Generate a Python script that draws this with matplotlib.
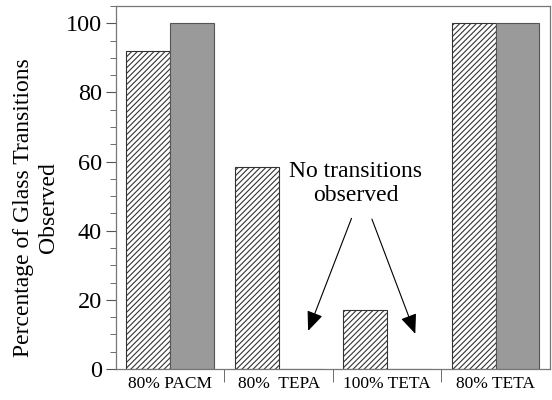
import numpy as np
import matplotlib.pyplot as plt
from matplotlib.ticker import MultipleLocator, FixedLocator

plt.rcParams['font.family'] = ['Liberation Serif', 'DejaVu Serif']
plt.rcParams['hatch.linewidth'] = 0.8

categories = ['80% PACM', '80%  TEPA', '100% TETA', '80% TETA']
hatched_vals = [92, 58.5, 17, 100]
grey_vals = [100, 0, 0, 100]

x = np.arange(len(categories))
w = 0.405

fig = plt.figure(figsize=(5.52, 4.0), dpi=100)
ax = fig.add_axes([0.210, 0.0775, 0.786, 0.9075])

ax.bar(x - w / 2, hatched_vals, width=w, color='white', edgecolor='#333333',
       hatch='//////', linewidth=0.8)
ax.bar(x + w / 2, grey_vals, width=w, color='#9a9a9a', edgecolor='#555555',
       linewidth=0.8)

ax.set_xlim(-0.5, len(categories) - 0.5)
ax.set_ylim(0, 105)
ax.yaxis.set_major_locator(MultipleLocator(20))
ax.yaxis.set_minor_locator(MultipleLocator(5))
ax.tick_params(axis='y', which='major', length=7, labelsize=17.5, color='#555555', pad=3)
ax.tick_params(axis='y', which='minor', length=4, color='#555555')

ax.set_xticks(x)
ax.set_xticklabels(categories)
ax.xaxis.set_minor_locator(FixedLocator(x[:-1] + 0.5))
ax.tick_params(axis='x', which='major', length=0, labelsize=12.5, pad=5)
ax.tick_params(axis='x', which='minor', length=9, color='#555555')

for s in ax.spines.values():
    s.set_color('#777777')
    s.set_linewidth(0.9)

ax.set_ylabel('Percentage of Glass Transitions\nObserved', fontsize=17,
              linespacing=1.25)
ax.yaxis.set_label_coords(-0.132, 0.445)

ax.text(0.553, 0.51, 'No transitions\nobserved', transform=ax.transAxes,
        ha='center', va='center', fontsize=17, linespacing=1.2)
arrow = dict(arrowstyle='-|>,head_length=1.2,head_width=0.5', color='black',
             lw=0.8, shrinkA=0, shrinkB=0)
ax.annotate('', xy=(0.443, 0.105), xytext=(0.543, 0.415),
            xycoords='axes fraction', textcoords='axes fraction',
            arrowprops=arrow)
ax.annotate('', xy=(0.69, 0.097), xytext=(0.59, 0.413),
            xycoords='axes fraction', textcoords='axes fraction',
            arrowprops=arrow)

fig.savefig('out.png', dpi=100)
